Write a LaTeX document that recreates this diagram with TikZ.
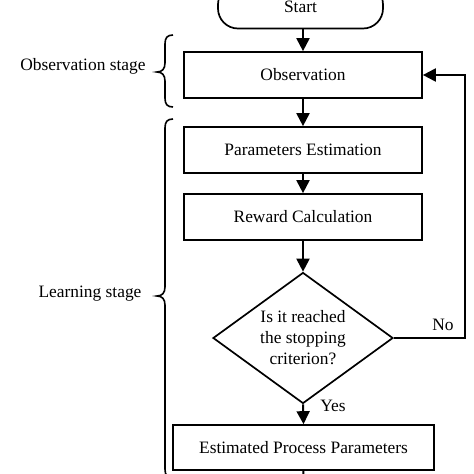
\documentclass[tikz,border=0pt]{standalone}
\usepackage{fontspec}
\setmainfont{Liberation Serif}
\usetikzlibrary{shapes.geometric,arrows.meta}
\begin{document}
\begin{tikzpicture}[x=1pt,y=-1pt,
  font=\fontsize{17.4}{21}\selectfont,
  box/.style={draw,line width=1.7pt,minimum width=238pt,minimum height=46pt,inner sep=0pt},
  arr/.style={line width=2pt,-{Triangle[length=13pt,width=13pt]}},
  bracepath/.style={line width=1.6pt}]
\useasboundingbox (0,0) rectangle (474,474);
\clip (0,0) rectangle (474,474);
\node[draw,line width=1.7pt,rounded corners=20pt,minimum width=165pt,minimum height=44pt,inner sep=0pt] (start) at (300.5,6.5) {Start};
\node[box] (obs) at (303,75) {Observation};
\node[box] (pe) at (303,150) {Parameters Estimation};
\node[box] (rc) at (303,217) {Reward Calculation};
\node[draw,line width=1.7pt,diamond,aspect=1.37,inner sep=0pt,minimum width=180pt,minimum height=131pt,align=center] (dia) at (303,338) {Is it reached\\the stopping\\criterion?};
\node[box,minimum width=261pt,minimum height=45pt] (est) at (303.5,447.5) {Estimated Process Parameters};
\coordinate (tail) at (303,485);
\coordinate (loop) at (465,338);
\node (lobs) at (83,66) {Observation stage};
\node (llearn) at (90,294) {Learning stage};
\node (yes) at (333,406) {Yes};
\node (no) at (443,325) {No};
\draw[arr] (303,28.5) -- (obs.north);
\draw[arr] (obs) -- (pe);
\draw[arr] (pe) -- (rc);
\draw[arr] (rc) -- (dia.north);
\draw[arr] (dia.south) -- (est.north);
\draw[line width=2pt] (est.south) -- (tail);
\draw[arr] (dia.east) -- (loop) |- (obs.east);
\draw[bracepath] (173,35) .. controls (167,35) and (165,38) .. (165,44) -- (165,63) .. controls (165,69) and (162,72) .. (157,72) .. controls (162,72) and (165,75) .. (165,81) -- (165,98) .. controls (165,104) and (167,107) .. (173,107);
\draw[bracepath] (173,119) .. controls (167,119) and (165,122) .. (165,128) -- (165,287) .. controls (165,293) and (162,296) .. (157,296) .. controls (162,296) and (165,299) .. (165,305) -- (165,469) .. controls (165,475) and (167,478) .. (173,478);
\end{tikzpicture}
\end{document}
